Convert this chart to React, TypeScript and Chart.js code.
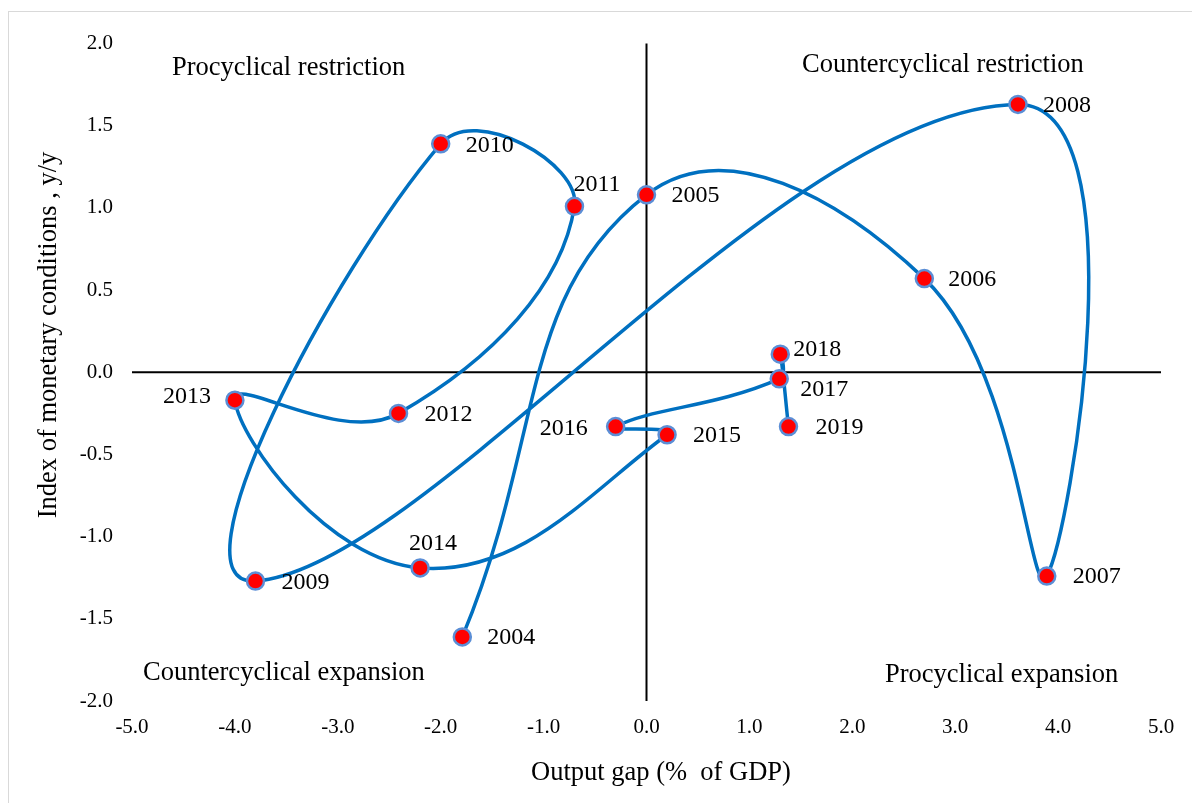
import React, { useEffect, useRef } from "react";
import { Chart, registerables } from "chart.js";

Chart.register(...registerables);

// ---- Data ----
const years = ["2004", "2005", "2006", "2007", "2008", "2009", "2010", "2011", "2012", "2013", "2014", "2015", "2016", "2017", "2018", "2019"];
const outputGap = [-1.79, 0.0, 2.7, 3.89, 3.61, -3.8, -2.0, -0.7, -2.41, -4.0, -2.2, 0.2, -0.3, 1.29, 1.3, 1.38];
const monetaryIndex = [-1.61, 1.08, 0.57, -1.24, 1.63, -1.27, 1.39, 1.01, -0.25, -0.17, -1.19, -0.38, -0.33, -0.04, 0.11, -0.33];

const xAxisRange = [-5, 5];
const yAxisRange = [-2, 2];
const xTitle = "Output gap (%  of GDP)";
const yTitle = "Index of monetary conditions , y/y";
const quadrantLabels = ["Procyclical restriction", "Countercyclical restriction", "Countercyclical expansion", "Procyclical expansion"];

const FONT = "'Liberation Serif', 'Times New Roman', serif";

// label offsets (px) relative to each point: [dx, dy, align]
const LABEL_OFFSETS: Record<string, [number, number, CanvasTextAlign]> = {
  "2004": [25, 1, "left"],
  "2005": [25, 1, "left"],
  "2006": [24, 1, "left"],
  "2007": [26, 1, "left"],
  "2008": [25, 1, "left"],
  "2009": [26, 2, "left"],
  "2010": [25, 2, "left"],
  "2011": [-1, -22, "left"],
  "2012": [26, 1, "left"],
  "2013": [-24, -4, "right"],
  "2014": [-11, -24, "left"],
  "2015": [26, 1, "left"],
  "2016": [-28, 2, "right"],
  "2017": [21, 11, "left"],
  "2018": [13, -5, "left"],
  "2019": [27, 1, "left"],
};

const overlayPlugin = {
  id: "overlay",
  beforeDatasetsDraw(chart: any) {
    const { ctx, chartArea, scales } = chart;
    const x0 = scales.x.getPixelForValue(0);
    const y0 = scales.y.getPixelForValue(0);
    ctx.save();
    ctx.strokeStyle = "#000000";
    ctx.lineWidth = 2;
    ctx.beginPath();
    ctx.moveTo(x0, chartArea.top);
    ctx.lineTo(x0, chartArea.bottom);
    ctx.moveTo(chartArea.left, y0);
    ctx.lineTo(chartArea.right, y0);
    ctx.stroke();
    ctx.restore();
  },
  afterDatasetsDraw(chart: any) {
    const { ctx, chartArea } = chart;
    const meta = chart.getDatasetMeta(0);
    ctx.save();
    ctx.fillStyle = "#000000";
    ctx.textBaseline = "middle";
    // year labels
    ctx.font = `24px ${FONT}`;
    meta.data.forEach((pt: any, i: number) => {
      const off = LABEL_OFFSETS[years[i]] || [25, 0, "left"];
      ctx.textAlign = off[2];
      ctx.fillText(years[i], pt.x + off[0], pt.y + off[1]);
    });
    // quadrant labels
    ctx.font = `26.5px ${FONT}`;
    ctx.textAlign = "left";
    ctx.fillText(quadrantLabels[0], chartArea.left + 40, chartArea.top + 24);
    ctx.fillText(quadrantLabels[1], chartArea.left + 670, chartArea.top + 21);
    ctx.fillText(quadrantLabels[2], chartArea.left + 11, chartArea.bottom - 28);
    ctx.fillText(quadrantLabels[3], chartArea.left + 753, chartArea.bottom - 26);
    // axis titles
    ctx.textAlign = "center";
    ctx.fillText(xTitle, 652, chartArea.bottom + 72);
    ctx.save();
    ctx.translate(40, 323);
    ctx.rotate(-Math.PI / 2);
    ctx.fillText(yTitle, 0, 0);
    ctx.restore();
    ctx.restore();
  },
};

export default function App() {
  const canvasRef = useRef<HTMLCanvasElement | null>(null);

  useEffect(() => {
    if (!canvasRef.current) return;
    const points = outputGap.map((x, i) => ({ x, y: monetaryIndex[i] }));
    const chart = new Chart(canvasRef.current, {
      type: "scatter",
      data: {
        datasets: [
          {
            label: "Monetary conditions",
            data: points,
            showLine: true,
            tension: 0.45,
            borderColor: "#0070C0",
            borderWidth: 3.5,
            pointRadius: 8.5,
            pointBorderWidth: 2.5,
            pointBorderColor: "#5B8ED6",
            pointBackgroundColor: "#FF0000",
            pointHoverRadius: 8.5,
          } as any,
        ],
      },
      options: {
        responsive: false,
        animation: false,
        devicePixelRatio: 1,
        events: [],
        layout: { padding: { top: 28, right: 48, left: 0, bottom: 0 } },
        elements: { line: { capBezierPoints: false } },
        plugins: {
          legend: { display: false },
          tooltip: { enabled: false },
        },
        scales: {
          x: {
            type: "linear",
            min: xAxisRange[0],
            max: xAxisRange[1],
            grid: { display: false, drawTicks: false },
            border: { display: false },
            ticks: {
              stepSize: 1,
              padding: 14,
              color: "#000000",
              font: { family: FONT, size: 21 },
              callback: (v: any) => Number(v).toFixed(1),
            },
            afterFit: (scale: any) => {
              scale.height = 111;
            },
          },
          y: {
            type: "linear",
            min: yAxisRange[0],
            max: yAxisRange[1],
            grid: { display: false, drawTicks: false },
            border: { display: false },
            ticks: {
              stepSize: 0.5,
              padding: 19,
              color: "#000000",
              font: { family: FONT, size: 21 },
              callback: (v: any) => Number(v).toFixed(1),
            },
            afterFit: (scale: any) => {
              scale.width = 123;
            },
          },
        },
      },
      plugins: [overlayPlugin],
    });
    return () => chart.destroy();
  }, []);

  return (
    <div style={{ position: "fixed", inset: 0, overflow: "hidden", background: "#ffffff" }}>
      <div
        style={{
          position: "absolute",
          left: 8,
          top: 11,
          width: 1200,
          height: 800,
          border: "1px solid #d9d9d9",
          background: "#ffffff",
        }}
      >
        <canvas ref={canvasRef} width={1200} height={800} style={{ display: "block", width: 1200, height: 800 }} />
      </div>
    </div>
  );
}
